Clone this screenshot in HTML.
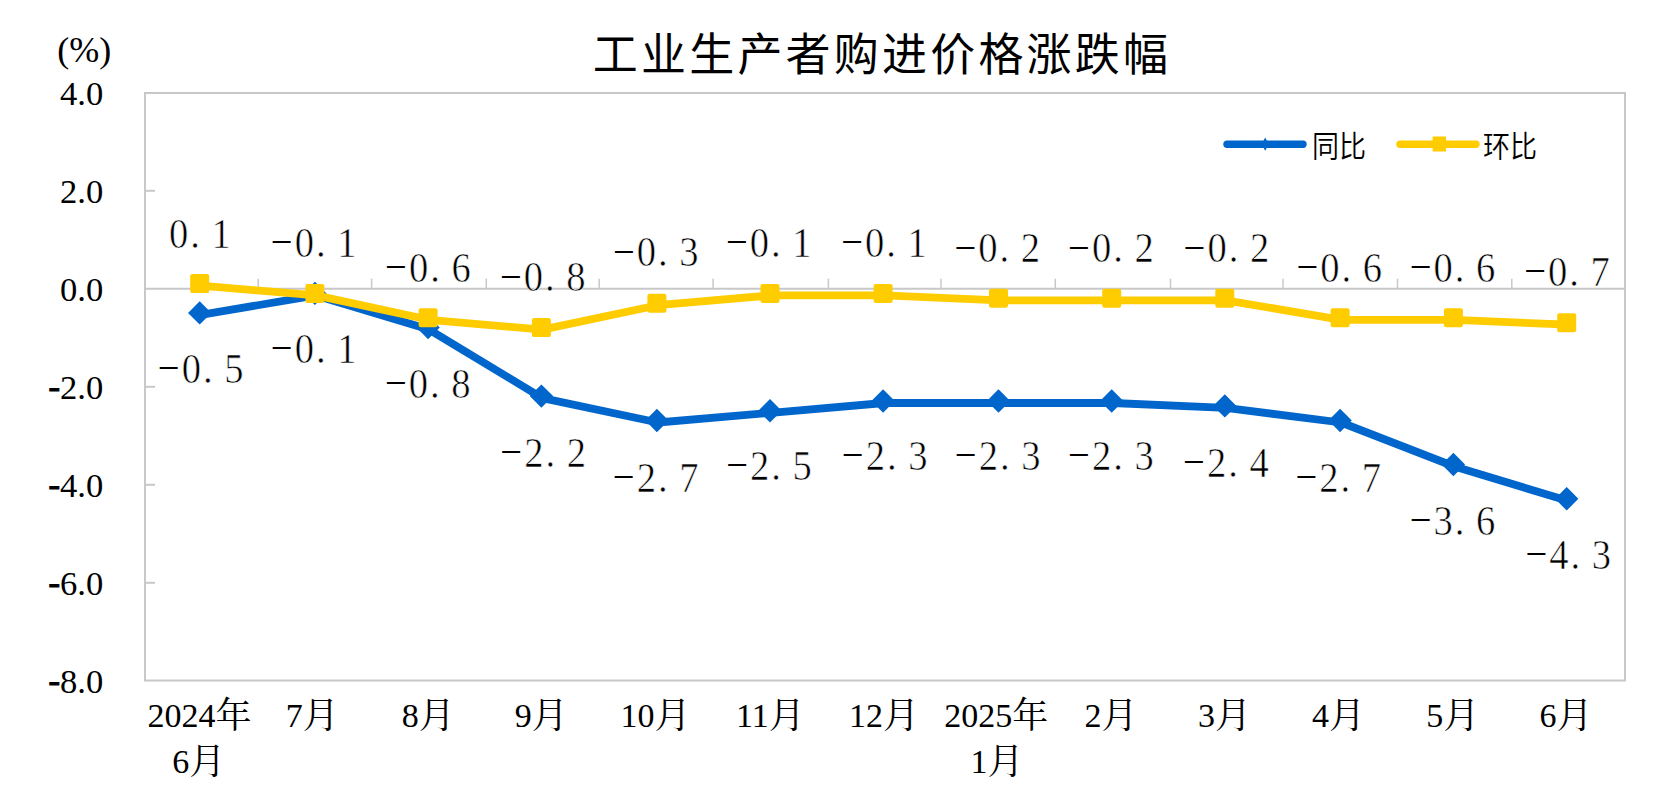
<!DOCTYPE html>
<html><head><meta charset="utf-8"><title>工业生产者购进价格涨跌幅</title>
<style>
html,body{margin:0;padding:0;background:#fff;}
body{width:1658px;height:795px;overflow:hidden;}
svg{display:block;}
.yl{font-family:"Liberation Serif","Noto Serif CJK SC",serif;font-size:34.6px;text-anchor:end;fill:#000;}
.hy{stroke:#000;stroke-width:1.1px;}
.pct{font-family:"Liberation Serif","Noto Serif CJK SC",serif;font-size:36px;fill:#000;}
.dl{font-family:"Liberation Serif","Noto Serif CJK SC",serif;font-size:41.5px;fill:#000;stroke:#fff;stroke-width:0.6px;}
.mn{stroke:none;}
.cj{font-size:36px;}
.xl{font-family:"Liberation Serif","Noto Serif CJK SC",serif;font-size:34px;text-anchor:middle;fill:#000;}
.lg{font-family:"Liberation Sans","Noto Sans CJK SC",sans-serif;font-size:27px;font-weight:350;fill:#000;}
.tt{font-family:"Liberation Sans","Noto Sans CJK SC",sans-serif;font-size:45px;letter-spacing:3.2px;font-weight:400;fill:#000;}
</style></head>
<body><svg width="1658" height="795" viewBox="0 0 1658 795">
<rect width="1658" height="795" fill="#fff"/>
<rect x="145" y="93" width="1480" height="587.5" fill="none" stroke="#c8c8c8" stroke-width="2"/>
<line x1="145" y1="288.8" x2="1625" y2="288.8" stroke="#c8c8c8" stroke-width="2"/>
<line x1="145" y1="190.8" x2="155" y2="190.8" stroke="#c8c8c8" stroke-width="2"/>
<line x1="145" y1="386.8" x2="155" y2="386.8" stroke="#c8c8c8" stroke-width="2"/>
<line x1="145" y1="484.8" x2="155" y2="484.8" stroke="#c8c8c8" stroke-width="2"/>
<line x1="145" y1="582.8" x2="155" y2="582.8" stroke="#c8c8c8" stroke-width="2"/>
<line x1="258.2" y1="278.7" x2="258.2" y2="288.8" stroke="#c8c8c8" stroke-width="1.5"/>
<line x1="371.6" y1="278.7" x2="371.6" y2="288.8" stroke="#c8c8c8" stroke-width="1.5"/>
<line x1="486.3" y1="278.7" x2="486.3" y2="288.8" stroke="#c8c8c8" stroke-width="1.5"/>
<line x1="599.2" y1="278.7" x2="599.2" y2="288.8" stroke="#c8c8c8" stroke-width="1.5"/>
<line x1="713.1" y1="278.7" x2="713.1" y2="288.8" stroke="#c8c8c8" stroke-width="1.5"/>
<line x1="828.4" y1="278.7" x2="828.4" y2="288.8" stroke="#c8c8c8" stroke-width="1.5"/>
<line x1="941.0" y1="278.7" x2="941.0" y2="288.8" stroke="#c8c8c8" stroke-width="1.5"/>
<line x1="1055.3" y1="278.7" x2="1055.3" y2="288.8" stroke="#c8c8c8" stroke-width="1.5"/>
<line x1="1170.5" y1="278.7" x2="1170.5" y2="288.8" stroke="#c8c8c8" stroke-width="1.5"/>
<line x1="1283.0" y1="278.7" x2="1283.0" y2="288.8" stroke="#c8c8c8" stroke-width="1.5"/>
<line x1="1397.5" y1="278.7" x2="1397.5" y2="288.8" stroke="#c8c8c8" stroke-width="1.5"/>
<line x1="1511.8" y1="278.7" x2="1511.8" y2="288.8" stroke="#c8c8c8" stroke-width="1.5"/>
<text x="103.3" y="105.4" class="yl">4.0</text>
<text x="103.3" y="203.4" class="yl">2.0</text>
<text x="103.3" y="301.4" class="yl">0.0</text>
<text x="103.3" y="399.4" class="yl"><tspan class="hy" dy="-1.3">-</tspan><tspan dy="1.3">2.0</tspan></text>
<text x="103.3" y="497.4" class="yl"><tspan class="hy" dy="-1.3">-</tspan><tspan dy="1.3">4.0</tspan></text>
<text x="103.3" y="595.4" class="yl"><tspan class="hy" dy="-1.3">-</tspan><tspan dy="1.3">6.0</tspan></text>
<text x="103.3" y="693.4" class="yl"><tspan class="hy" dy="-1.3">-</tspan><tspan dy="1.3">8.0</tspan></text>
<text x="57.3" y="61.6" class="pct">(%)</text>
<polyline points="200.7,314.9 315.9,295.4 429.1,329.6 542.4,398.1 657.9,422.5 771.0,412.8 884.1,403.0 999.5,403.0 1112.7,403.0 1225.8,407.9 1341.1,422.5 1454.4,466.5 1567.7,500.8" fill="none" stroke="#0066cc" stroke-width="7.8" stroke-linejoin="round" stroke-linecap="round"/>
<path d="M199.7 301.2L211.4 312.9L199.7 324.6L188.0 312.9Z" fill="#0066cc"/>
<path d="M314.9 281.7L326.6 293.4L314.9 305.1L303.2 293.4Z" fill="#0066cc"/>
<path d="M428.1 315.9L439.8 327.6L428.1 339.3L416.4 327.6Z" fill="#0066cc"/>
<path d="M541.4 384.4L553.1 396.1L541.4 407.8L529.7 396.1Z" fill="#0066cc"/>
<path d="M656.9 408.8L668.6 420.5L656.9 432.2L645.2 420.5Z" fill="#0066cc"/>
<path d="M770.0 399.1L781.7 410.8L770.0 422.4L758.3 410.8Z" fill="#0066cc"/>
<path d="M883.1 389.3L894.8 401.0L883.1 412.7L871.4 401.0Z" fill="#0066cc"/>
<path d="M998.5 389.3L1010.2 401.0L998.5 412.7L986.8 401.0Z" fill="#0066cc"/>
<path d="M1111.7 389.3L1123.4 401.0L1111.7 412.7L1100.0 401.0Z" fill="#0066cc"/>
<path d="M1224.8 394.2L1236.5 405.9L1224.8 417.6L1213.1 405.9Z" fill="#0066cc"/>
<path d="M1340.1 408.8L1351.8 420.5L1340.1 432.2L1328.4 420.5Z" fill="#0066cc"/>
<path d="M1453.4 452.8L1465.1 464.5L1453.4 476.2L1441.7 464.5Z" fill="#0066cc"/>
<path d="M1566.7 487.1L1578.4 498.8L1566.7 510.5L1555.0 498.8Z" fill="#0066cc"/>
<polyline points="200.7,285.6 315.9,295.4 429.1,319.8 542.4,329.6 657.9,305.2 771.0,295.4 884.1,295.4 999.5,300.3 1112.7,300.3 1225.8,300.3 1341.1,319.8 1454.4,319.8 1567.7,324.7" fill="none" stroke="#ffcc00" stroke-width="7.8" stroke-linejoin="round" stroke-linecap="round"/>
<rect x="190.2" y="274.1" width="19.0" height="19.0" rx="2.2" fill="#ffcc00"/>
<rect x="305.4" y="283.9" width="19.0" height="19.0" rx="2.2" fill="#ffcc00"/>
<rect x="418.6" y="308.3" width="19.0" height="19.0" rx="2.2" fill="#ffcc00"/>
<rect x="531.9" y="318.1" width="19.0" height="19.0" rx="2.2" fill="#ffcc00"/>
<rect x="647.4" y="293.7" width="19.0" height="19.0" rx="2.2" fill="#ffcc00"/>
<rect x="760.5" y="283.9" width="19.0" height="19.0" rx="2.2" fill="#ffcc00"/>
<rect x="873.6" y="283.9" width="19.0" height="19.0" rx="2.2" fill="#ffcc00"/>
<rect x="989.0" y="288.8" width="19.0" height="19.0" rx="2.2" fill="#ffcc00"/>
<rect x="1102.2" y="288.8" width="19.0" height="19.0" rx="2.2" fill="#ffcc00"/>
<rect x="1215.3" y="288.8" width="19.0" height="19.0" rx="2.2" fill="#ffcc00"/>
<rect x="1330.6" y="308.3" width="19.0" height="19.0" rx="2.2" fill="#ffcc00"/>
<rect x="1443.9" y="308.3" width="19.0" height="19.0" rx="2.2" fill="#ffcc00"/>
<rect x="1557.2" y="313.2" width="19.0" height="19.0" rx="2.2" fill="#ffcc00"/>
<text transform="translate(200.05 248.20) scale(0.93 1)" x="-33.47 -10.63 12.22" y="0" class="dl">0.1</text>
<text transform="translate(315.15 256.90) scale(0.93 1)" x="-47.69 -22.05 0.80 23.65" y="0" class="dl"><tspan class="mn" dy="-0.7">−</tspan><tspan dy="0.7">0.1</tspan></text>
<text transform="translate(429.40 281.80) scale(0.93 1)" x="-47.69 -22.05 0.80 23.65" y="0" class="dl"><tspan class="mn" dy="-0.7">−</tspan><tspan dy="0.7">0.6</tspan></text>
<text transform="translate(544.30 291.40) scale(0.93 1)" x="-47.69 -22.05 0.80 23.65" y="0" class="dl"><tspan class="mn" dy="-0.7">−</tspan><tspan dy="0.7">0.8</tspan></text>
<text transform="translate(657.30 266.40) scale(0.93 1)" x="-47.69 -22.05 0.80 23.65" y="0" class="dl"><tspan class="mn" dy="-0.7">−</tspan><tspan dy="0.7">0.3</tspan></text>
<text transform="translate(770.30 256.80) scale(0.93 1)" x="-47.69 -22.05 0.80 23.65" y="0" class="dl"><tspan class="mn" dy="-0.7">−</tspan><tspan dy="0.7">0.1</tspan></text>
<text transform="translate(885.60 256.80) scale(0.93 1)" x="-47.69 -22.05 0.80 23.65" y="0" class="dl"><tspan class="mn" dy="-0.7">−</tspan><tspan dy="0.7">0.1</tspan></text>
<text transform="translate(998.85 262.30) scale(0.93 1)" x="-47.69 -22.05 0.80 23.65" y="0" class="dl"><tspan class="mn" dy="-0.7">−</tspan><tspan dy="0.7">0.2</tspan></text>
<text transform="translate(1112.40 262.30) scale(0.93 1)" x="-47.69 -22.05 0.80 23.65" y="0" class="dl"><tspan class="mn" dy="-0.7">−</tspan><tspan dy="0.7">0.2</tspan></text>
<text transform="translate(1227.90 262.30) scale(0.93 1)" x="-47.69 -22.05 0.80 23.65" y="0" class="dl"><tspan class="mn" dy="-0.7">−</tspan><tspan dy="0.7">0.2</tspan></text>
<text transform="translate(1340.80 282.00) scale(0.93 1)" x="-47.69 -22.05 0.80 23.65" y="0" class="dl"><tspan class="mn" dy="-0.7">−</tspan><tspan dy="0.7">0.6</tspan></text>
<text transform="translate(1454.00 282.00) scale(0.93 1)" x="-47.69 -22.05 0.80 23.65" y="0" class="dl"><tspan class="mn" dy="-0.7">−</tspan><tspan dy="0.7">0.6</tspan></text>
<text transform="translate(1568.60 285.90) scale(0.93 1)" x="-47.69 -22.05 0.80 23.65" y="0" class="dl"><tspan class="mn" dy="-0.7">−</tspan><tspan dy="0.7">0.7</tspan></text>
<text transform="translate(202.20 382.60) scale(0.93 1)" x="-47.69 -22.05 0.80 23.65" y="0" class="dl"><tspan class="mn" dy="-0.7">−</tspan><tspan dy="0.7">0.5</tspan></text>
<text transform="translate(315.15 363.10) scale(0.93 1)" x="-47.69 -22.05 0.80 23.65" y="0" class="dl"><tspan class="mn" dy="-0.7">−</tspan><tspan dy="0.7">0.1</tspan></text>
<text transform="translate(429.30 397.60) scale(0.93 1)" x="-47.69 -22.05 0.80 23.65" y="0" class="dl"><tspan class="mn" dy="-0.7">−</tspan><tspan dy="0.7">0.8</tspan></text>
<text transform="translate(544.70 467.10) scale(0.93 1)" x="-47.69 -22.05 0.80 23.65" y="0" class="dl"><tspan class="mn" dy="-0.7">−</tspan><tspan dy="0.7">2.2</tspan></text>
<text transform="translate(657.15 491.70) scale(0.93 1)" x="-47.69 -22.05 0.80 23.65" y="0" class="dl"><tspan class="mn" dy="-0.7">−</tspan><tspan dy="0.7">2.7</tspan></text>
<text transform="translate(770.60 480.10) scale(0.93 1)" x="-47.69 -22.05 0.80 23.65" y="0" class="dl"><tspan class="mn" dy="-0.7">−</tspan><tspan dy="0.7">2.5</tspan></text>
<text transform="translate(886.20 469.80) scale(0.93 1)" x="-47.69 -22.05 0.80 23.65" y="0" class="dl"><tspan class="mn" dy="-0.7">−</tspan><tspan dy="0.7">2.3</tspan></text>
<text transform="translate(999.20 469.80) scale(0.93 1)" x="-47.69 -22.05 0.80 23.65" y="0" class="dl"><tspan class="mn" dy="-0.7">−</tspan><tspan dy="0.7">2.3</tspan></text>
<text transform="translate(1112.40 469.80) scale(0.93 1)" x="-47.69 -22.05 0.80 23.65" y="0" class="dl"><tspan class="mn" dy="-0.7">−</tspan><tspan dy="0.7">2.3</tspan></text>
<text transform="translate(1227.40 476.50) scale(0.93 1)" x="-47.69 -22.05 0.80 23.65" y="0" class="dl"><tspan class="mn" dy="-0.7">−</tspan><tspan dy="0.7">2.4</tspan></text>
<text transform="translate(1339.80 492.00) scale(0.93 1)" x="-47.69 -22.05 0.80 23.65" y="0" class="dl"><tspan class="mn" dy="-0.7">−</tspan><tspan dy="0.7">2.7</tspan></text>
<text transform="translate(1454.00 534.90) scale(0.93 1)" x="-47.69 -22.05 0.80 23.65" y="0" class="dl"><tspan class="mn" dy="-0.7">−</tspan><tspan dy="0.7">3.6</tspan></text>
<text transform="translate(1569.80 568.50) scale(0.93 1)" x="-47.69 -22.05 0.80 23.65" y="0" class="dl"><tspan class="mn" dy="-0.7">−</tspan><tspan dy="0.7">4.3</tspan></text>
<text x="199.6" y="727.4" class="xl">2024<tspan class="cj" dy="0.8">年</tspan></text>
<text x="198.8" y="773.4" class="xl">6<tspan class="cj" dy="0.8">月</tspan></text>
<text x="312.2" y="727.4" class="xl">7<tspan class="cj" dy="0.8">月</tspan></text>
<text x="428.2" y="727.4" class="xl">8<tspan class="cj" dy="0.8">月</tspan></text>
<text x="541.3" y="727.4" class="xl">9<tspan class="cj" dy="0.8">月</tspan></text>
<text x="655.5" y="727.4" class="xl">10<tspan class="cj" dy="0.8">月</tspan></text>
<text x="770.3" y="727.4" class="xl">11<tspan class="cj" dy="0.8">月</tspan></text>
<text x="883.9" y="727.4" class="xl">12<tspan class="cj" dy="0.8">月</tspan></text>
<text x="996.2" y="727.4" class="xl">2025<tspan class="cj" dy="0.8">年</tspan></text>
<text x="997.1" y="773.4" class="xl">1<tspan class="cj" dy="0.8">月</tspan></text>
<text x="1111.0" y="727.4" class="xl">2<tspan class="cj" dy="0.8">月</tspan></text>
<text x="1224.6" y="727.4" class="xl">3<tspan class="cj" dy="0.8">月</tspan></text>
<text x="1338.6" y="727.4" class="xl">4<tspan class="cj" dy="0.8">月</tspan></text>
<text x="1452.7" y="727.4" class="xl">5<tspan class="cj" dy="0.8">月</tspan></text>
<text x="1566.1" y="727.4" class="xl">6<tspan class="cj" dy="0.8">月</tspan></text>
<line x1="1227" y1="144.2" x2="1303" y2="144.2" stroke="#0066cc" stroke-width="7.4" stroke-linecap="round"/>
<path d="M1265.2 137.6L1268.8 144.2L1265.2 150.8L1261.6 144.2Z" fill="#0066cc"/>
<text transform="translate(1312 156.7) scale(1 1.1)" x="0" y="0" class="lg">同比</text>
<line x1="1400" y1="144.2" x2="1476" y2="144.2" stroke="#ffcc00" stroke-width="7.4" stroke-linecap="round"/>
<rect x="1432.6" y="136.5" width="13.4" height="15" fill="#ffcc00"/>
<text transform="translate(1483 156.7) scale(1 1.1)" x="0" y="0" class="lg">环比</text>
<text x="592.8" y="70.6" class="tt">工业生产者购进价格涨跌幅</text>
</svg></body></html>
